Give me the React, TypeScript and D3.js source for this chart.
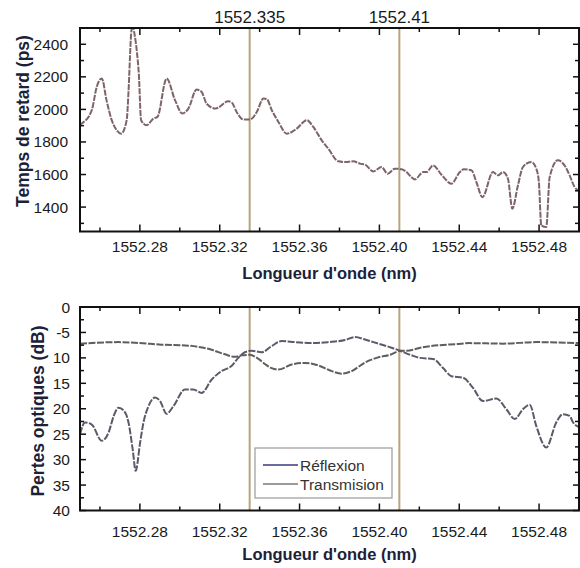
import React from "react";
import * as d3 from "d3";

// ---------- DATA ----------
const xTicksMajor = [1552.28, 1552.32, 1552.36, 1552.40, 1552.44, 1552.48];
const xTickLabels = ["1552.28", "1552.32", "1552.36", "1552.40", "1552.44", "1552.48"];
const xTicksMinor = [1552.26, 1552.30, 1552.34, 1552.38, 1552.42, 1552.46, 1552.50];
const markers = [1552.335, 1552.41];
const markerLabels = ["1552.335", "1552.41"];

const delayTicks = [1400, 1600, 1800, 2000, 2200, 2400];
const delayMinor = [1300, 1500, 1700, 1900, 2100, 2300];

const lossTicks = [0, 5, 10, 15, 20, 25, 30, 35, 40];
const lossTickLabels = ["0", "-5", "10", "15", "20", "25", "30", "35", "40"];
const lossMinor = [2.5, 7.5, 12.5, 17.5, 22.5, 27.5, 32.5, 37.5];

const delayWl = [
  1552.25, 1552.2509, 1552.2559, 1552.2584, 1552.2609, 1552.2634, 1552.2659, 1552.2685, 1552.2706,
  1552.2734, 1552.2743, 1552.2756, 1552.2764, 1552.2772, 1552.2784, 1552.2795, 1552.2806, 1552.2834,
  1552.2868, 1552.2888, 1552.2934, 1552.2976, 1552.3013, 1552.3043, 1552.3084, 1552.3109, 1552.3134,
  1552.3179, 1552.3243, 1552.326, 1552.3289, 1552.3318, 1552.3343, 1552.3361, 1552.3386, 1552.3419,
  1552.3436, 1552.3461, 1552.3494, 1552.3536, 1552.3586, 1552.3636, 1552.3669, 1552.3711, 1552.3744,
  1552.3794, 1552.3828, 1552.3869, 1552.3903, 1552.3928, 1552.3969, 1552.4011, 1552.4041, 1552.4078,
  1552.4111, 1552.4136, 1552.416, 1552.4178, 1552.4219, 1552.4236, 1552.4269, 1552.4311, 1552.4361,
  1552.4403, 1552.4423, 1552.4461, 1552.4486, 1552.4516, 1552.4569, 1552.4594, 1552.4619, 1552.4644,
  1552.4666, 1552.4694, 1552.4719, 1552.4761, 1552.4786, 1552.4799, 1552.4811, 1552.4836, 1552.4853,
  1552.4894, 1552.4933, 1552.4953, 1552.4978, 1552.5,
];
const delayPs = [
  1905, 1913, 1995, 2139, 2190, 2050, 1934, 1870, 1851,
  1934, 2108, 2460, 2520, 2470, 2365, 2211, 1934, 1903,
  1944, 1954, 2190, 2057, 1975, 2005, 2122, 2108, 2036,
  2005, 2050, 2042, 1975, 1938, 1938, 1944, 1985, 2067,
  2063, 1995, 1923, 1851, 1882, 1934, 1892, 1810, 1759,
  1681, 1677, 1681, 1667, 1661, 1619, 1646, 1605, 1636,
  1632, 1615, 1584, 1570, 1615, 1615, 1656, 1599, 1544,
  1615, 1632, 1626, 1554, 1461, 1615, 1595, 1615, 1574,
  1390, 1533, 1646, 1677, 1636, 1554, 1287, 1277, 1584,
  1687, 1646, 1595, 1523, 1500,
];

const transWl = [
  1552.25, 1552.2693, 1552.28, 1552.2909, 1552.3043, 1552.3159, 1552.3226, 1552.3276, 1552.331,
  1552.335, 1552.3394, 1552.343, 1552.346, 1552.3494, 1552.3561, 1552.3628, 1552.3694, 1552.3761,
  1552.3811, 1552.3861, 1552.3928, 1552.3994, 1552.4061, 1552.4103, 1552.4136, 1552.4218, 1552.4303,
  1552.4386, 1552.4453, 1552.4619, 1552.4786, 1552.5,
];
const transDb = [
  7.2, 6.9, 7.1, 7.4, 7.6, 8.4, 9.3, 9.8, 9.5,
  9.4, 10.2, 11.3, 12.0, 12.3, 11.3, 11.0, 11.5, 12.6,
  13.1, 12.6, 10.9, 9.9, 9.3, 8.6, 8.6, 7.9, 7.5,
  7.3, 7.1, 7.2, 6.9, 7.1,
];

const reflWl = [
  1552.25, 1552.2525, 1552.2559, 1552.2609, 1552.2643, 1552.2669, 1552.2693, 1552.2718, 1552.2743,
  1552.2764, 1552.2779, 1552.2801, 1552.2818, 1552.2843, 1552.2876, 1552.2901, 1552.2934, 1552.2968,
  1552.3026, 1552.3068, 1552.3109, 1552.3159, 1552.3209, 1552.3259, 1552.3293, 1552.3326, 1552.336,
  1552.341, 1552.346, 1552.351, 1552.3578, 1552.3661, 1552.3744, 1552.3828, 1552.3878, 1552.3928,
  1552.3994, 1552.4061, 1552.4103, 1552.4169, 1552.4203, 1552.4269, 1552.4319, 1552.4361, 1552.4419,
  1552.4469, 1552.4519, 1552.4586, 1552.4636, 1552.4678, 1552.4719, 1552.4753, 1552.4786, 1552.4836,
  1552.4886, 1552.4919, 1552.4953, 1552.4969, 1552.5,
];
const reflDb = [
  25.0, 22.7, 23.1, 26.3, 24.7, 21.4, 19.8, 20.3, 22.7,
  28.0, 32.2, 26.7, 22.7, 19.5, 17.8, 18.5, 21.0, 19.5,
  16.2, 16.2, 16.9, 14.3, 12.6, 11.6, 10.0, 8.9, 8.6,
  8.9, 7.7, 6.7, 6.9, 7.1, 6.9, 6.5, 5.9, 6.4,
  7.2, 8.0, 8.6, 9.6, 10.0, 10.2, 12.0, 13.6, 13.9,
  15.9, 18.5, 18.0, 20.1, 22.0, 20.1, 19.2, 23.4, 27.6,
  22.7, 21.1, 21.4, 22.6, 23.6,
];

const legendLabels = ["Réflexion", "Transmision"];

// ---------- LAYOUT ----------
const W = 580;
const H = 568;
const L = 80;
const R = 579;
const topP = { t: 28, b: 231.5 };
const botP = { t: 307, b: 510.5 };

const FONT = "'Liberation Sans', Arial, sans-serif";
const markerColor = "#b6a47e";
const titleColor = "#1b2238";

export default function App() {
  const x = d3.scaleLinear().domain([1552.25, 1552.5]).range([L, R]);
  const yD = d3.scaleLinear().domain([1250, 2500]).range([topP.b, topP.t]);
  const yL = d3.scaleLinear().domain([0, 40]).range([botP.t, botP.b]);

  const lineD = d3
    .line<number>()
    .x((_, i) => x(delayWl[i]))
    .y((v) => yD(v))
    .curve(d3.curveMonotoneX);
  const lineT = d3
    .line<number>()
    .x((_, i) => x(transWl[i]))
    .y((v) => yL(v))
    .curve(d3.curveMonotoneX);
  const lineR = d3
    .line<number>()
    .x((_, i) => x(reflWl[i]))
    .y((v) => yL(v))
    .curve(d3.curveMonotoneX);

  const frame = (p: { t: number; b: number }) => (
    <rect x={L} y={p.t} width={R - L} height={p.b - p.t} fill="none" stroke="#111" strokeWidth={2} />
  );

  const xTicks = (p: { t: number; b: number }) => (
    <g stroke="#111" strokeWidth={1.5}>
      {xTicksMajor.map((v) => (
        <g key={"M" + v}>
          <line x1={x(v)} x2={x(v)} y1={p.b} y2={p.b - 7} />
          <line x1={x(v)} x2={x(v)} y1={p.t} y2={p.t + 7} />
        </g>
      ))}
      {xTicksMinor.map((v) => (
        <g key={"m" + v}>
          <line x1={x(v)} x2={x(v)} y1={p.b} y2={p.b - 4} />
          <line x1={x(v)} x2={x(v)} y1={p.t} y2={p.t + 4} />
        </g>
      ))}
    </g>
  );

  const yTicks = (scale: any, major: number[], minor: number[]) => (
    <g stroke="#111" strokeWidth={1.5}>
      {major.map((v) => (
        <g key={"M" + v}>
          <line x1={L} x2={L + 6} y1={scale(v)} y2={scale(v)} />
          <line x1={R} x2={R - 6} y1={scale(v)} y2={scale(v)} />
        </g>
      ))}
      {minor.map((v) => (
        <g key={"m" + v}>
          <line x1={L} x2={L + 4} y1={scale(v)} y2={scale(v)} />
          <line x1={R} x2={R - 4} y1={scale(v)} y2={scale(v)} />
        </g>
      ))}
    </g>
  );

  const markerLines = (p: { t: number; b: number }) =>
    markers.map((m) => (
      <line key={m} x1={x(m)} x2={x(m)} y1={p.t} y2={p.b} stroke={markerColor} strokeWidth={2} />
    ));

  return (
    <svg
      width={W}
      height={H}
      viewBox={`0 0 ${W} ${H}`}
      style={{ position: "absolute", left: 0, top: 0, background: "#fff" }}
      fontFamily={FONT}
    >
      <defs>
        <clipPath id="clipTop">
          <rect x={L} y={topP.t} width={R - L} height={topP.b - topP.t} />
        </clipPath>
        <clipPath id="clipBot">
          <rect x={L} y={botP.t} width={R - L} height={botP.b - botP.t} />
        </clipPath>
      </defs>
      <rect width={W} height={H} fill="#fff" />

      {/* ---------- TOP PANEL ---------- */}
      {markerLines(topP)}
      {markers.map((m, i) => (
        <text key={m} x={x(m)} y={22.5} textAnchor="middle" fontSize={17} fill="#1a1a1a">
          {markerLabels[i]}
        </text>
      ))}
      <path
        d={lineD(delayPs) || ""}
        fill="none"
        stroke="#7d6468"
        strokeWidth={2}
        strokeDasharray="6,1.2"
        clipPath="url(#clipTop)"
      />
      {frame(topP)}
      {xTicks(topP)}
      {yTicks(yD, delayTicks, delayMinor)}
      {xTicksMajor.map((v, i) => (
        <text key={v} x={x(v)} y={topP.b + 20.5} textAnchor="middle" fontSize={15.5} fill="#1a1a1a">
          {xTickLabels[i]}
        </text>
      ))}
      {delayTicks.map((v) => (
        <text key={v} x={68} y={yD(v) + 5.5} textAnchor="end" fontSize={15.5} fill="#1a1a1a">
          {v}
        </text>
      ))}
      <text x={(L + R) / 2} y={279} textAnchor="middle" fontSize={16.5} fontWeight="bold" fill={titleColor}>
        Longueur d'onde (nm)
      </text>
      <text
        transform={`translate(29,121) rotate(-90)`}
        textAnchor="middle"
        fontSize={17.5}
        fontWeight="bold"
        fill={titleColor}
      >
        Temps de retard (ps)
      </text>

      {/* ---------- BOTTOM PANEL ---------- */}
      {markerLines(botP)}
      <g clipPath="url(#clipBot)">
        <path
          d={lineT(transDb) || ""}
          fill="none"
          stroke="#5e5e5e"
          strokeWidth={2}
          strokeDasharray="7,1.5"
        />
        <path
          d={lineR(reflDb) || ""}
          fill="none"
          stroke="#5a5a68"
          strokeWidth={2}
          strokeDasharray="7,1.5"
        />
      </g>
      {frame(botP)}
      {xTicks(botP)}
      {yTicks(yL, lossTicks, lossMinor)}
      {xTicksMajor.map((v, i) => (
        <text key={v} x={x(v)} y={botP.b + 26} textAnchor="middle" fontSize={15.5} fill="#1a1a1a">
          {xTickLabels[i]}
        </text>
      ))}
      {lossTicks.map((v, i) => (
        <text key={v} x={70} y={yL(v) + 5.5} textAnchor="end" fontSize={15.5} fill="#1a1a1a">
          {lossTickLabels[i]}
        </text>
      ))}
      <text x={(L + R) / 2} y={560} textAnchor="middle" fontSize={16.5} fontWeight="bold" fill={titleColor}>
        Longueur d'onde (nm)
      </text>
      <text
        transform={`translate(44,411) rotate(-90)`}
        textAnchor="middle"
        fontSize={17.5}
        fontWeight="bold"
        fill={titleColor}
      >
        Pertes optiques (dB)
      </text>

      {/* legend */}
      <g>
        <rect x={255} y={448} width={137} height={50} fill="#fff" stroke="#9a9a9a" strokeWidth={1.2} />
        <line x1={263} x2={298} y1={465} y2={465} stroke="#6a6a9c" strokeWidth={2} />
        <line x1={263} x2={298} y1={484} y2={484} stroke="#9a9a9a" strokeWidth={2} />
        <text x={300} y={470.5} fontSize={15.5} fill="#333">
          {legendLabels[0]}
        </text>
        <text x={300} y={489.5} fontSize={15.5} fill="#333">
          {legendLabels[1]}
        </text>
      </g>
    </svg>
  );
}
